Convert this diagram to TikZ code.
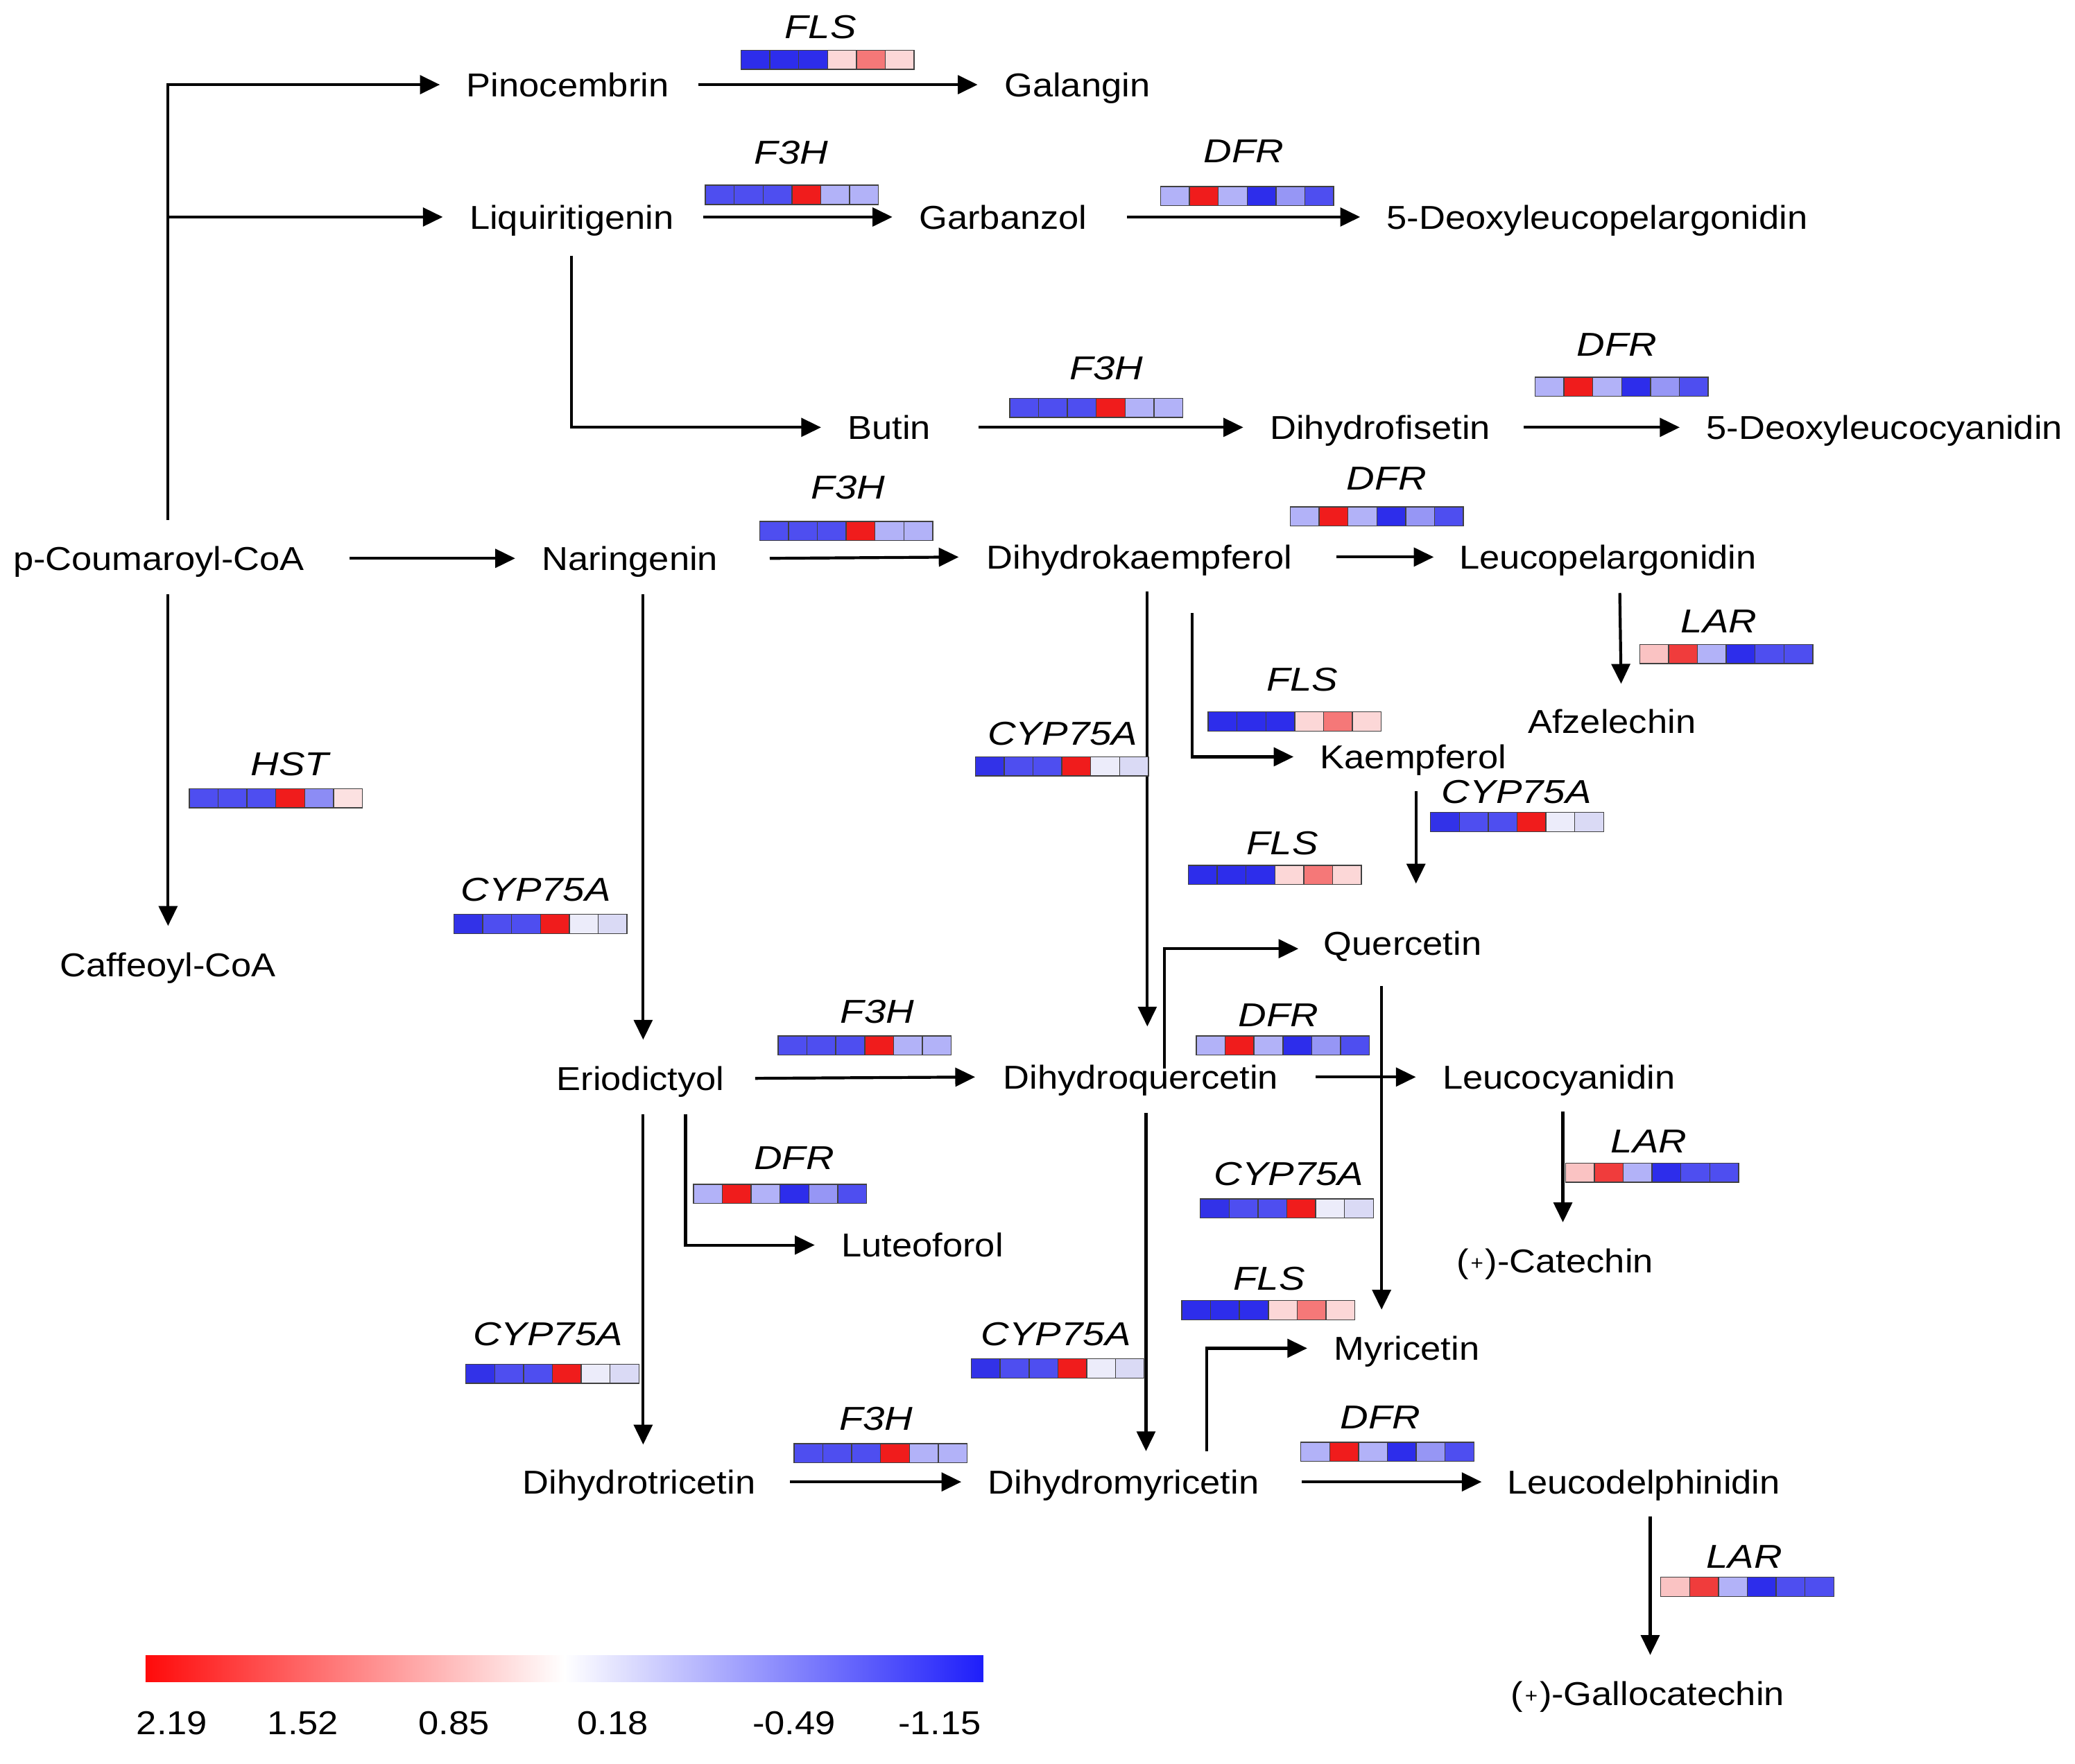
\documentclass[tikz,border=0pt]{standalone}
\usepackage{fontspec}
\setmainfont{Liberation Sans}
\newfontfamily\namefont{Liberation Sans}[FakeStretch=1.1]
\newfontfamily\genefont{Liberation Sans}[FakeStretch=1.18]
\usetikzlibrary{arrows.meta,calc}
\definecolor{cB}{RGB}{45,45,235}
\definecolor{cB2}{RGB}{50,50,232}
\definecolor{cM}{RGB}{78,78,240}
\definecolor{cL}{RGB}{178,178,248}
\definecolor{cL2}{RGB}{150,150,245}
\definecolor{cL3}{RGB}{140,140,245}
\definecolor{cR}{RGB}{240,28,28}
\definecolor{cR2}{RGB}{240,60,60}
\definecolor{cP}{RGB}{245,120,120}
\definecolor{cLP}{RGB}{252,215,215}
\definecolor{cLP2}{RGB}{250,195,195}
\definecolor{cLP3}{RGB}{252,225,225}
\definecolor{cW1}{RGB}{236,236,250}
\definecolor{cW2}{RGB}{218,218,245}
\definecolor{legred}{RGB}{255,10,10}
\definecolor{legblue}{RGB}{30,30,250}
\def\FLS{cB,cB,cB,cLP,cP,cLP}
\def\FTH{cM,cM,cM,cR,cL,cL}
\def\DFR{cL,cR,cL,cB,cL2,cM}
\def\LAR{cLP2,cR2,cL,cB,cM,cM}
\def\CYP{cB2,cM,cM,cR,cW1,cW2}
\def\HST{cM,cM,cM,cR,cL3,cLP3}
% #1 name, #2 #3 bar top-left, #4 label, #5 colours, #6 #7 label centre
\newcommand\heat[7]{%
  \foreach \hc [count=\hi from 0] in #5 {%
    \filldraw[fill=\hc, draw=black!75, line width=0.75pt] ({#2+\hi*21.8},#3) rectangle ++(21.8,14.5);
  }%
  \node[gene] (#1) at (#6,#7) {#4};
}
\newcommand\plusmark{(\kern1.5pt\raisebox{2pt}{\fontsize{15}{15}\selectfont +}\kern1.5pt)}
\begin{document}
\begin{tikzpicture}[x=1pt,y=-1pt,
  cmpd/.style={font=\namefont\fontsize{25}{28}\selectfont, inner sep=0pt, text height=18pt, text depth=0pt},
  gene/.style={font=\genefont\itshape\fontsize{25}{28}\selectfont, inner sep=0pt, text height=18pt, text depth=0pt},
  arr/.style={line width=2.2pt, -{Triangle[length=15pt,width=14pt]}}]
\useasboundingbox[fill=white] (0,0) rectangle (1568,1333);

% compounds
\node[cmpd] (pino) at (429,64) {Pinocembrin};
\node[cmpd] (gal) at (814,64) {Galangin};
\node[cmpd] (liq) at (432,164) {Liquiritigenin};
\node[cmpd] (garb) at (758,164) {Garbanzol};
\node[cmpd] (dlp) at (1207,164) {5-Deoxyleucopelargonidin};
\node[cmpd] (butin) at (672,323) {Butin};
\node[cmpd] (dhf) at (1043,323) {Dihydrofisetin};
\node[cmpd] (dlc) at (1424,323) {5-Deoxyleucocyanidin};
\node[cmpd] (pc) at (120,422) {p-Coumaroyl-CoA};
\node[cmpd] (nar) at (476,422) {Naringenin};
\node[cmpd] (dhk) at (861,421) {Dihydrokaempferol};
\node[cmpd] (lpg) at (1215,421) {Leucopelargonidin};
\node[cmpd] (afz) at (1218,545) {Afzelechin};
\node[cmpd] (kae) at (1068,572) {Kaempferol};
\node[cmpd] (caff) at (127,729) {Caffeoyl-CoA};
\node[cmpd] (que) at (1060,713) {Quercetin};
\node[cmpd] (erio) at (484,815) {Eriodictyol};
\node[cmpd] (dhq) at (862,814) {Dihydroquercetin};
\node[cmpd] (lcy) at (1178,814) {Leucocyanidin};
\node[cmpd] (lut) at (697,941) {Luteoforol};
\node[cmpd] (cat) at (1175,953) {\plusmark-Catechin};
\node[cmpd] (myr) at (1063,1019) {Myricetin};
\node[cmpd] (dht) at (483,1120) {Dihydrotricetin};
\node[cmpd] (dhm) at (849,1120) {Dihydromyricetin};
\node[cmpd] (ldp) at (1242,1120) {Leucodelphinidin};
\node[cmpd] (gcat) at (1245,1280) {\plusmark-Gallocatechin};

% connectors
\coordinate (trunk) at ($(caff.north |- pc.north)+(0,-20)$);
\draw[arr] (trunk) |- ($(pino.west)+(-20,0)$);
\draw[arr] (trunk |- liq.west) -- ($(liq.west)+(-20,0)$);
\draw[arr] ($(pc.east)+(34,0)$) -- ($(nar.west)+(-20,0)$);
\draw[arr] ($(caff.north |- pc.south)+(0,18)$) -- ($(caff.north)+(0,-20)$);
\draw[arr] ($(pino.east)+(22,0)$) -- ($(gal.west)+(-20,0)$);
\draw[arr] ($(liq.east)+(22,0)$) -- ($(garb.west)+(-20,0)$);
\draw[arr] ($(garb.east)+(30,0)$) -- ($(dlp.west)+(-20,0)$);
\draw[arr] ($(liq.south)+(0,20)$) |- ($(butin.west)+(-20,0)$);
\draw[arr] ($(butin.east)+(36,0)$) -- ($(dhf.west)+(-20,0)$);
\draw[arr] ($(dhf.east)+(25,0)$) -- ($(dlc.west)+(-20,0)$);
\draw[arr] ($(nar.east)+(39,0)$) -- ($(dhk.west)+(-21,0)$);
\draw[arr] ($(dhk.east)+(33,0)$) -- ($(lpg.west)+(-19,0)$);
\draw[arr] ($(lpg.south)+(9,18)$) -- ($(afz.north)+(7,-19)$);
\draw[arr] ($(dhk.south)+(6,17)$) -- ($(dhq.north)+(5,-29)$);
\draw[arr] ($(dhk.south)+(40,33)$) |- ($(kae.west)+(-20,0)$);
\draw[arr] ($(kae.south)+(2,17)$) -- ($(kae.south |- que.north)+(2,-36)$);
\draw[arr] ($(dhq.north)+(18,3)$) |- ($(que.west)+(-19,4)$);
\draw[arr] ($(nar.south)+(10,18)$) -- ($(erio.north)+(2,-20)$);
\draw[arr] ($(erio.east)+(23,0)$) -- ($(dhq.west)+(-21,0)$);
\draw[arr] ($(dhq.east)+(28,0)$) -- ($(lcy.west)+(-20,0)$);
\draw[arr] ($(que.south)+(-16,23)$) -- ($(myr.north)+(-19,-20)$);
\draw[arr] ($(lcy.south)+(3,17)$) -- ($(cat.north)+(6,-20)$);
\draw[arr] ($(erio.south)+(34,18)$) |- ($(lut.west)+(-20,0)$);
\draw[arr] ($(erio.south)+(2,18)$) -- ($(dht.north)+(3,-19)$);
\draw[arr] ($(dhq.south)+(4,18)$) -- ($(dhm.north)+(17,-14)$);
\draw[arr] ($(dhm.north)+(63,-14)$) |- ($(myr.west)+(-20,0)$);
\draw[arr] ($(dht.east)+(26,0)$) -- ($(dhm.west)+(-20,0)$);
\draw[arr] ($(dhm.east)+(32,0)$) -- ($(ldp.west)+(-19,0)$);
\draw[arr] ($(ldp.south)+(5,17)$) -- ($(gcat.north)+(2,-20)$);

% heatmaps
\heat{fls1}{560}{38}{FLS}{\FLS}{620}{20}
\heat{f3h1}{533}{140}{F3H}{\FTH}{598}{115}
\heat{dfr1}{877}{141}{DFR}{\DFR}{940}{114}
\heat{f3h2}{763}{301}{F3H}{\FTH}{836}{278}
\heat{dfr2}{1160}{285}{DFR}{\DFR}{1222}{260}
\heat{f3h3}{574}{394}{F3H}{\FTH}{641}{368}
\heat{dfr3}{975}{383}{DFR}{\DFR}{1048}{361}
\heat{lar1}{1239}{487}{LAR}{\LAR}{1299}{469}
\heat{fls2}{913}{538}{FLS}{\FLS}{984}{513}
\heat{cyp1}{737}{572}{CYP75A}{\CYP}{803}{554}
\heat{hst}{143}{596}{HST}{\HST}{219}{577}
\heat{cyp2}{1081}{614}{CYP75A}{\CYP}{1146}{598}
\heat{fls3}{898}{654}{FLS}{\FLS}{969}{637}
\heat{cyp3}{343}{691}{CYP75A}{\CYP}{405}{672}
\heat{f3h4}{588}{783}{F3H}{\FTH}{663}{764}
\heat{dfr4}{904}{783}{DFR}{\DFR}{966}{767}
\heat{dfr5}{524}{895}{DFR}{\DFR}{600}{875}
\heat{lar2}{1183}{879}{LAR}{\LAR}{1246}{862}
\heat{cyp4}{907}{906}{CYP75A}{\CYP}{974}{887}
\heat{fls4}{893}{983}{FLS}{\FLS}{959}{966}
\heat{cyp5}{352}{1031}{CYP75A}{\CYP}{414}{1008}
\heat{cyp6}{734}{1027}{CYP75A}{\CYP}{798}{1008}
\heat{f3h5}{600}{1091}{F3H}{\FTH}{662}{1072}
\heat{dfr6}{983}{1090}{DFR}{\DFR}{1043}{1071}
\heat{lar3}{1255}{1192}{LAR}{\LAR}{1318}{1176}

% legend
\shade[left color=legred, right color=legblue, middle color=white] (110,1251) rectangle (743,1271);
\node[cmpd] (l1) at (130,1302) {2.19};
\node[cmpd] (l2) at (229,1302) {1.52};
\node[cmpd] (l3) at (343,1302) {0.85};
\node[cmpd] (l4) at (463,1302) {0.18};
\node[cmpd] (l5) at (600,1302) {-0.49};
\node[cmpd] (l6) at (710,1302) {-1.15};
\end{tikzpicture}
\end{document}
